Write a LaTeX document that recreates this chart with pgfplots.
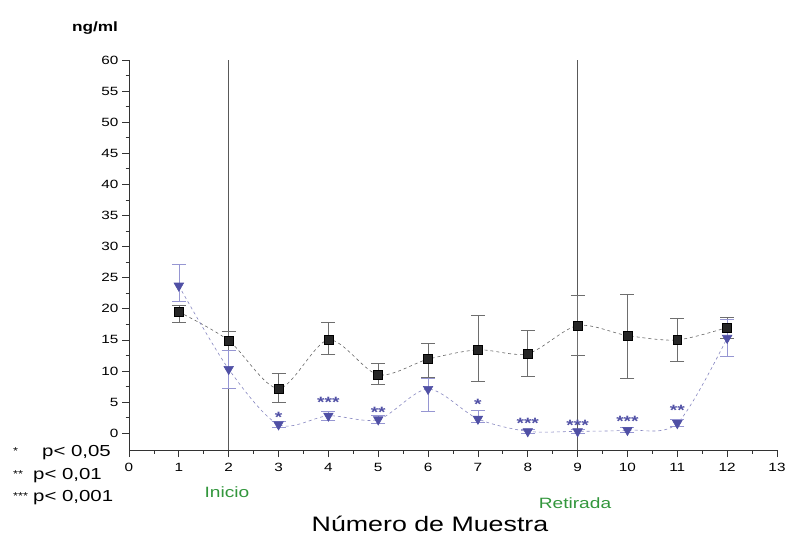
\documentclass[border=0pt]{standalone}
\usepackage{pgfplots}
\pgfplotsset{compat=1.18}
\usepackage{pgfplotstable}
\usepackage{fontspec}
\setmainfont{Liberation Sans}[FakeStretch=1.28]
\definecolor{triblue}{RGB}{80,80,165}
\definecolor{trierr}{RGB}{150,150,210}
\definecolor{sqerr}{RGB}{110,110,110}
\definecolor{labgreen}{RGB}{50,150,60}
\pgfplotstableread{
x y ep em
1 19.5 1.0 1.6
2 14.9 1.5 1.5
3 7.2 2.4 2.2
4 15.0 2.8 2.3
5 9.4 1.9 1.6
6 11.9 2.5 2.9
7 13.4 5.6 5.0
8 12.8 3.7 3.6
9 17.3 4.9 4.8
10 15.7 6.7 6.8
11 15.0 3.4 3.5
12 17.0 1.7 1.7
}\squares
\pgfplotstableread{
x y ep em
1 23.7 3.4 2.5
2 10.3 3.1 3.1
3 1.4 0.5 0.5
4 2.8 0.8 0.8
5 2.2 0.6 0.6
6 7.1 1.8 3.5
7 2.3 1.4 0.6
8 0.3 0.4 0.3
9 0.3 0.4 0.3
10 0.5 0.4 0.3
11 1.6 0.6 0.5
12 15.3 3.0 3.0
}\tris
\begin{document}
\begin{tikzpicture}
\begin{axis}[
  scale only axis, width=648bp, height=390bp,
  xmin=0, xmax=13, ymin=-2.7, ymax=60,
  axis lines=left, axis line style={-, thick, black!80},
  xtick={0,1,...,13}, ytick={0,5,...,60},
  minor x tick num=1, minor y tick num=1,
  tick align=outside, tick style={black!80, thick},
  major tick length=7bp, minor tick length=3.5bp,
  ticklabel style={font=\fontsize{12}{14}\selectfont},
  xticklabel style={yshift=-3bp},
  /pgf/number format/assume math mode=true,
  clip=false,
]
\addplot[gray!70!black, thick] coordinates {(2,-2.7) (2,60)};
\addplot[gray!70!black, thick] coordinates {(9,-2.7) (9,60)};
% squares
\addplot[black!60, dashed, smooth, semithick, mark=square*, mark size=4.5pt,
  mark options={solid, fill=black!85, draw=black},
  error bars/.cd, y dir=both, y explicit,
  error bar style={solid, sqerr, semithick}, error mark options={rotate=90, mark size=7pt, sqerr, semithick}]
  table[x=x, y=y, y error plus=ep, y error minus=em] {\squares};
% triangles
\addplot[triblue!70, dashed, smooth, semithick, mark=triangle*, mark size=5.5pt,
  mark options={solid, rotate=180, fill=triblue, draw=triblue},
  error bars/.cd, y dir=both, y explicit,
  error bar style={solid, trierr, semithick}, error mark options={rotate=90, mark size=7pt, trierr, semithick}]
  table[x=x, y=y, y error plus=ep, y error minus=em] {\tris};
% significance stars
\begin{scope}[every node/.style={text=triblue, font=\fontsize{15}{15}\selectfont\bfseries, anchor=base, inner sep=0pt}]
\node at (axis cs:3,1.8) {*};
\node at (axis cs:4,4.1) {***};
\node at (axis cs:5,2.6) {**};
\node at (axis cs:7,3.8) {*};
\node at (axis cs:8,0.7) {***};
\node at (axis cs:9,0.4) {***};
\node at (axis cs:10,1.0) {***};
\node at (axis cs:11,2.8) {**};
\end{scope}
\end{axis}
\path (-129bp,-92bp) rectangle (665bp,450bp);
\node[font=\fontsize{13.5}{15}\selectfont\bfseries] at (-34bp,422bp) {ng/ml};
\node[font=\fontsize{15}{17}\selectfont, text=labgreen] at (98bp,-42bp) {Inicio};
\node[font=\fontsize{15}{17}\selectfont, text=labgreen] at (446bp,-53bp) {Retirada};
\node[font=\fontsize{21}{24}\selectfont] at (301bp,-74bp) {Número de Muestra};
\begin{scope}[every node/.style={font=\fontsize{16}{18}\selectfont, anchor=west, inner sep=0pt}]
\node[font=\fontsize{10}{10}\selectfont] at (-116bp,-1bp) {*};
\node at (-87bp,-3bp) {p< 0,05};
\node[font=\fontsize{10}{10}\selectfont] at (-116bp,-24bp) {**};
\node at (-96bp,-26bp) {p< 0,01};
\node[font=\fontsize{10}{10}\selectfont] at (-116bp,-46bp) {***};
\node at (-96bp,-48bp) {p< 0,001};
\end{scope}
\end{tikzpicture}
\end{document}
